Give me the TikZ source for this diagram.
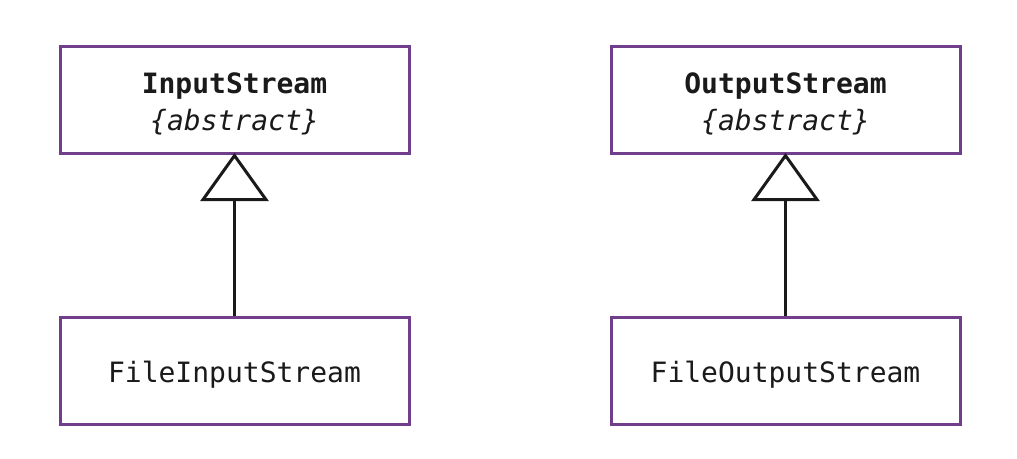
\documentclass[tikz,border=0pt]{standalone}
\usepackage{fontspec}
\setmonofont{DejaVu Sans Mono}
\usetikzlibrary{arrows.meta}
\definecolor{boxpurple}{RGB}{112,62,138}
\definecolor{ink}{RGB}{26,26,26}
\newcommand{\lowered}[1]{\raisebox{-4pt}[\height][\depth]{#1}}
\tikzset{
  cls/.style={draw=boxpurple, line width=3pt, fill=white, minimum width=349pt, minimum height=107pt,
    inner sep=0pt, align=center, font=\fontsize{28}{37}\selectfont\ttfamily, text=ink},
  inherit/.style={draw=ink, line width=3pt, -{Triangle[open, length=48pt, width=68pt, fill=white, line join=miter]}}
}
\begin{document}
\begin{tikzpicture}[x=1pt,y=1pt]
\useasboundingbox (0,0) rectangle (1017,-458);
\node[cls] (is) at (234.5,-100) {\lowered{\textbf{InputStream}}\\\lowered{\textit{\{abstract\}}}};
\node[cls] (os) at (785.5,-100) {\lowered{\textbf{OutputStream}}\\\lowered{\textit{\{abstract\}}}};
\node[cls] (fis) at (234.5,-370.5) {\lowered{FileInputStream}};
\node[cls] (fos) at (785.5,-370.5) {\lowered{FileOutputStream}};
\draw[inherit] (fis.north) -- ([yshift=2pt]is.south);
\draw[inherit] (fos.north) -- ([yshift=2pt]os.south);
\end{tikzpicture}
\end{document}
